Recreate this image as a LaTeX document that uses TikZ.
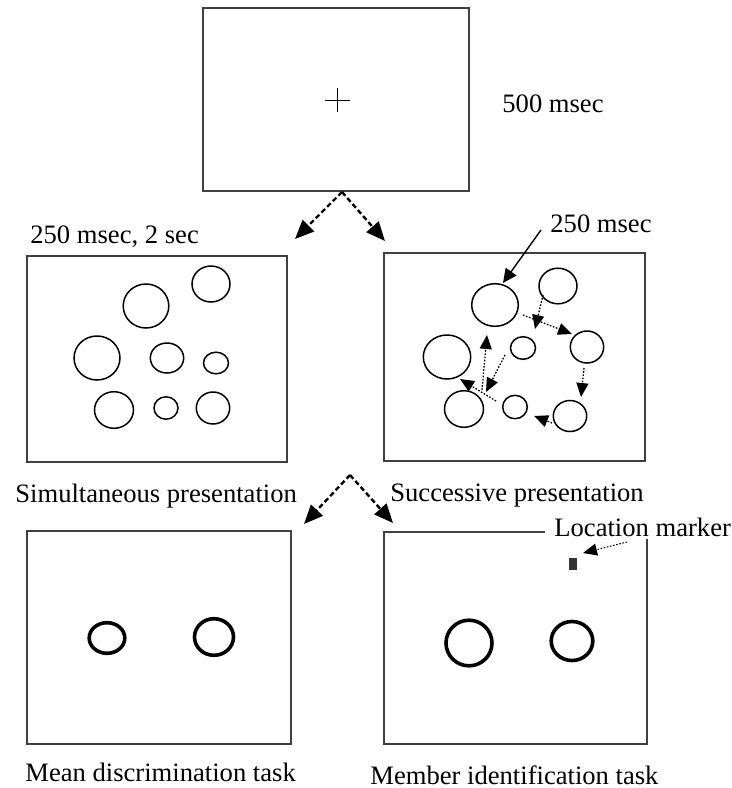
\documentclass[tikz,border=0pt]{standalone}
\usepackage{fontspec}
\setmainfont{Liberation Serif}
\usetikzlibrary{arrows.meta,shapes.geometric}
\definecolor{boxgray}{HTML}{404040}
\tikzset{
  panel/.style={draw=boxgray, line width=0.65pt, rectangle, inner sep=0pt, outer sep=0pt},
  circ/.style={draw, ellipse, inner sep=0pt, line width=0.75pt},
  thickcirc/.style={draw, ellipse, inner sep=0pt, line width=1.8pt},
  lbl/.style={font=\fontsize{13.3}{16}\selectfont, inner sep=0pt, anchor=base west},
  bigarrow/.style={line width=1.2pt, dash pattern=on 2.5pt off 1.5pt, -{Triangle[length=9.5pt,width=8pt]}},
  seqarrow/.style={line width=0.65pt, dash pattern=on 0.8pt off 0.8pt, -{Triangle[length=7pt,width=6pt]}},
  solidarrow/.style={line width=0.7pt, -{Triangle[length=7pt,width=6.5pt]}},
}
\begin{document}
\begin{tikzpicture}[x=0.5pt,y=-0.5pt]
\useasboundingbox (0,0) rectangle (732,788);

% fixation panel
\node[panel, minimum width=133pt, minimum height=91.5pt] (fix) at (336,99.5) {};
\coordinate (cross) at (337,100);
\draw[line width=0.5pt] (cross) ++(-12.5,0) -- ++(25,0);
\draw[line width=0.5pt] (cross) ++(0,-12) -- ++(0,24);
\node[lbl] (t500) at (502,112) {500 msec};

% arrows from fixation
\coordinate (apex1) at (342,192);
\coordinate (tipL1) at (295,239);
\coordinate (tipR1) at (385,241);
\draw[bigarrow] (apex1) -- (tipL1);
\draw[bigarrow] (apex1) -- (tipR1);

% simultaneous panel
\node[lbl] (t250b) at (30,243) {250 msec, 2 sec};
\node[panel, minimum width=130pt, minimum height=103pt] (sim) at (157,359) {};
\node[circ, minimum width=22.8pt, minimum height=22pt] (s1) at (146,306) {};
\node[circ, minimum width=19pt, minimum height=18pt] (s2) at (211,284) {};
\node[circ, minimum width=23pt, minimum height=22pt] (s3) at (97,358) {};
\node[circ, minimum width=16.7pt, minimum height=15pt] (s4) at (167,358) {};
\node[circ, minimum width=12.5pt, minimum height=10.8pt] (s5) at (216,363) {};
\node[circ, minimum width=19.5pt, minimum height=18.3pt] (s6) at (114,410) {};
\node[circ, minimum width=12pt, minimum height=11.2pt] (s7) at (166,408) {};
\node[circ, minimum width=16.7pt, minimum height=16pt] (s8) at (213,408) {};
\node[lbl] (tsim) at (15,502) {Simultaneous presentation};

% successive panel
\node[panel, minimum width=130.5pt, minimum height=104pt] (suc) at (514.5,357) {};
\node[circ, minimum width=23.3pt, minimum height=21.3pt] (ca) at (495,305) {};
\node[circ, minimum width=19pt, minimum height=17.8pt] (cb) at (558,286) {};
\node[circ, minimum width=16.7pt, minimum height=16pt] (cc) at (587,347) {};
\node[circ, minimum width=12.5pt, minimum height=11.3pt] (cd) at (523,348) {};
\node[circ, minimum width=23.7pt, minimum height=22pt] (ce) at (447,357) {};
\node[circ, minimum width=19.5pt, minimum height=18.3pt] (cf) at (464,409) {};
\node[circ, minimum width=12.3pt, minimum height=11.7pt] (cg) at (515,407) {};
\node[circ, minimum width=16.7pt, minimum height=15.5pt] (ch) at (570,416) {};
\node[lbl] (t250) at (550,232) {250 msec};
\coordinate (p0s) at (541,230);
\coordinate (p0t) at (503,283);
\draw[solidarrow] (p0s) -- (p0t);
\coordinate (p1s) at (543,295); \coordinate (p1t) at (535,329);
\coordinate (p2s) at (523,315); \coordinate (p2t) at (572,334);
\coordinate (p3s) at (584,368); \coordinate (p3t) at (581,397);
\coordinate (p4s) at (552,423); \coordinate (p4t) at (534,416);
\coordinate (p5s) at (496,401); \coordinate (p5t) at (460,379);
\coordinate (p6s) at (482,390); \coordinate (p6t) at (487,335);
\coordinate (p7s) at (505,355); \coordinate (p7t) at (486,392);
\foreach \i in {1,...,7} { \draw[seqarrow] (p\i s) -- (p\i t); }
\node[lbl] (tsuc) at (390,501) {Successive presentation};

% arrows to tasks
\coordinate (apex2) at (350,475);
\coordinate (tipL2) at (304,524);
\coordinate (tipR2) at (393,523);
\draw[bigarrow] (apex2) -- (tipL2);
\draw[bigarrow] (apex2) -- (tipR2);

% mean discrimination panel
\node[panel, minimum width=132pt, minimum height=106.5pt] (mean) at (159,637.5) {};
\node[thickcirc, minimum width=17.8pt, minimum height=15.3pt] (m1) at (107,638) {};
\node[thickcirc, minimum width=19.5pt, minimum height=18.3pt] (m2) at (214,637) {};
\node[lbl] (tmean) at (25,781) {Mean discrimination task};

% member identification panel
\node[panel, minimum width=131.5pt, minimum height=106pt] (mem) at (515.5,638) {};
\node[thickcirc, minimum width=23pt, minimum height=22.8pt] (i1) at (469,643) {};
\node[thickcirc, minimum width=20.8pt, minimum height=19.5pt] (i2) at (572,641) {};
\node[fill=black!80, inner sep=0pt, minimum width=4pt, minimum height=6pt] (marker) at (573,564) {};
\node[lbl, fill=white, inner xsep=4.5pt, inner ysep=1.5pt] (tloc) at (545,536) {Location marker};
\coordinate (lms) at (627,542);
\coordinate (lmt) at (583,553);
\draw[line width=0.5pt, dash pattern=on 0.8pt off 0.8pt, -{Triangle[length=7pt,width=6pt]}] (lms) -- (lmt);
\node[lbl] (tmem) at (370,784) {Member identification task};
\end{tikzpicture}
\end{document}
